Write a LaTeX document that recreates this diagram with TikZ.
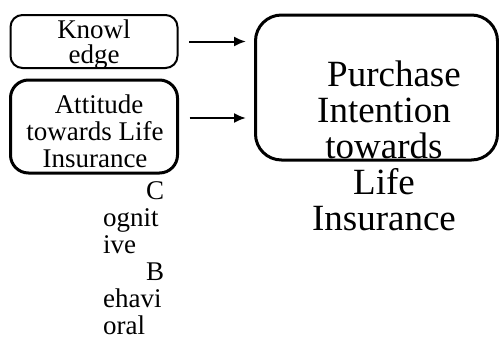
\documentclass[tikz,border=0pt]{standalone}
\usepackage{fontspec}
\setmainfont{Liberation Serif}
\usetikzlibrary{positioning,arrows.meta}
\begin{document}
\begin{tikzpicture}[>={Latex[length=12pt,width=10pt]},x=1pt,y=-1pt,
    box/.style={draw,rounded corners=#1,inner sep=0pt},
    small/.style={font=\fontsize{27}{27}\selectfont,align=center,inner sep=0pt},
    big/.style={font=\fontsize{37}{36}\selectfont,align=center,inner sep=0pt}]
    \useasboundingbox (0,0) rectangle (499,338);
    \node [box=12pt,line width=2pt,minimum width=167pt,minimum height=53pt] (Know) at (94,41.5) {};
    \node [box=18pt,line width=3pt,minimum width=167pt,minimum height=93pt] (Att) at (94,126.5) {};
    \node [box=26pt,line width=3pt,minimum width=242pt,minimum height=145pt] (Purch) at (376.5,87.5) {};
    \node [small,font=\fontsize{27}{25}\selectfont,anchor=base] (KnowText) at (94,63) {Knowl\\edge};
    \node [small,anchor=base] (AttText) at (95,167) {\hspace*{8pt}Attitude\\towards Life\\Insurance};
    \node [big,anchor=base] (PurchText) at (384,230) {\hspace*{20pt}Purchase\\Intention\\towards\\Life\\Insurance};
    \node [small,align=left,anchor=base west] (Comp) at (103,334) {\hspace*{43pt}C\\ognit\\ive\\\hspace*{43pt}B\\ehavi\\oral};
    \draw [->,line width=2pt,shorten <=10.5pt,shorten >=8pt] (Know.east) -- (Know.east -| Purch.west);
    \draw [->,line width=2pt,shorten <=10.5pt,shorten >=8pt] ([yshift=8.5pt]Att.east) -- ([yshift=8.5pt]Att.east -| Purch.west);
\end{tikzpicture}
\end{document}
